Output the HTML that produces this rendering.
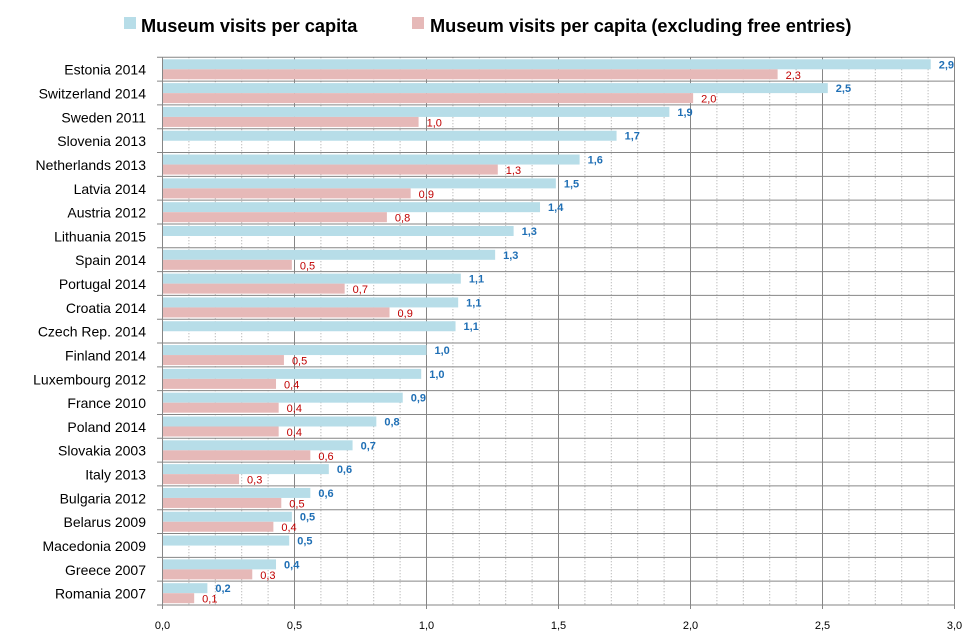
<!DOCTYPE html>
<html><head><meta charset="utf-8"><style>
body{margin:0;background:#fff;font-family:"Liberation Sans","DejaVu Sans",sans-serif;}
svg{display:block}
</style></head><body>
<svg id="chart" width="979" height="640" viewBox="0 0 979 640">
<g id="legend">
<rect x="124" y="17" width="12" height="12" fill="#b7dde8"/>
<text x="141" y="32" font-size="18.2" font-weight="bold" fill="#000">Museum visits per capita</text>
<rect x="412" y="17" width="12" height="12" fill="#e6b9b8"/>
<text x="430" y="32" font-size="18.2" font-weight="bold" fill="#000">Museum visits per capita (excluding free entries)</text>
</g>
<g id="grid"></g><g id="bars"></g><g id="labels"></g><g id="axes"></g>
</svg>
<script>
const categories=["Estonia 2014","Switzerland 2014","Sweden 2011","Slovenia 2013","Netherlands 2013","Latvia 2014","Austria 2012","Lithuania 2015","Spain 2014","Portugal 2014","Croatia 2014","Czech Rep. 2014","Finland 2014","Luxembourg 2012","France 2010","Poland 2014","Slovakia 2003","Italy 2013","Bulgaria 2012","Belarus 2009","Macedonia 2009","Greece 2007","Romania 2007"];
const visits=[2.91,2.52,1.92,1.72,1.58,1.49,1.43,1.33,1.26,1.13,1.12,1.11,1.0,0.98,0.91,0.81,0.72,0.63,0.56,0.49,0.48,0.43,0.17];
const visitsExclFree=[2.33,2.01,0.97,null,1.27,0.94,0.85,null,0.49,0.69,0.86,null,0.46,0.43,0.44,0.44,0.56,0.29,0.45,0.42,null,0.34,0.12];
const xTicks=[0,0.5,1,1.5,2,2.5,3];
const xTickLabels=["0,0","0,5","1,0","1,5","2,0","2,5","3,0"];
const NS="http://www.w3.org/2000/svg";
const X0=162.5,X1=954.5,TOP=57.3,BOT=605,XMAX=3;
const rowH=(BOT-TOP)/categories.length;
function xs(v){return X0+(X1-X0)*v/XMAX;}
function rowTop(i){return TOP+i*rowH;}
function mk(tag,attrs,parent){const e=document.createElementNS(NS,tag);for(const k in attrs)e.setAttribute(k,attrs[k]);parent.appendChild(e);return e;}
const grid=document.getElementById('grid'),bars=document.getElementById('bars'),labels=document.getElementById('labels'),axes=document.getElementById('axes');
const fmt=v=>v.toFixed(1).replace('.',',');
for(let k=1;k<=30;k++){if(k%5===0)continue;const x=xs(k/10);
const l=mk('line',{x1:x,x2:x,y1:TOP,y2:BOT,stroke:'#a6a6a6','stroke-width':1,'stroke-dasharray':'1,2'},grid);

}
xTicks.forEach((t,i)=>{const x=xs(t);
if(t>0){const l=mk('line',{x1:x,x2:x,y1:TOP,y2:BOT+4,stroke:'#868686','stroke-width':1},grid);

}
const tx=mk('text',{x:x,y:629,'font-size':11,'text-anchor':'middle',fill:'#000'},axes);tx.textContent=xTickLabels[i];

});
for(let i=0;i<=categories.length;i++){const y=rowTop(i);
const l=mk('line',{x1:157,x2:X1,y1:y,y2:y,stroke:'#868686','stroke-width':1},grid);

}
const ax=mk('line',{x1:X0,x2:X0,y1:TOP,y2:BOT+4,stroke:'#868686','stroke-width':1},axes);


categories.forEach((c,i)=>{const t=rowTop(i);
const lab=mk('text',{x:146,y:t+rowH/2+5.5,'font-size':14,'text-anchor':'end',fill:'#000'},axes);lab.textContent=c;


const v=visits[i];
const b=mk('rect',{x:X0,y:t+2,width:xs(v)-X0,height:10,fill:'#b7dde8'},bars);


const bl=mk('text',{x:xs(v)+8,y:t+11,'font-size':11,'font-weight':'bold',fill:'#1f6fb5'},labels);bl.textContent=fmt(v);


const r=visitsExclFree[i];
if(r!==null){
const rb=mk('rect',{x:X0,y:t+12,width:xs(r)-X0,height:10,fill:'#e6b9b8'},bars);


const rl=mk('text',{x:xs(r)+8,y:t+21.5,'font-size':11,fill:'#c00000'},labels);rl.textContent=fmt(r);

}
});
</script>
</body></html>
